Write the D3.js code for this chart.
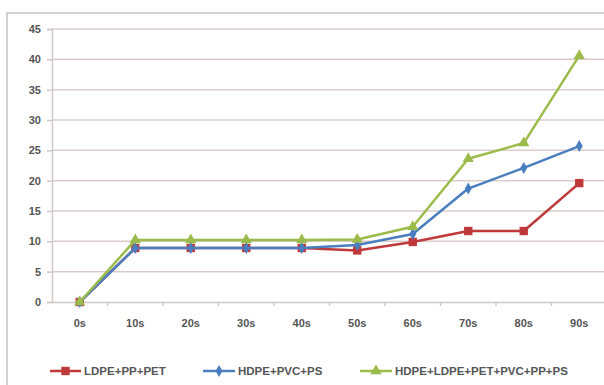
<!DOCTYPE html>
<html>
<head>
<meta charset="utf-8">
<script src="https://cdn.jsdelivr.net/npm/d3@7"></script>
<style>
  html, body { margin: 0; padding: 0; background: #fff; }
  svg { display: block; font-family: "Liberation Sans", Arial, sans-serif; }
</style>
</head>
<body>
<svg id="chart" width="604" height="385"></svg>
<script>
// Time steps along the x axis
const categories = ["0s", "10s", "20s", "30s", "40s", "50s", "60s", "70s", "80s", "90s"];

// Measured values for each plastic mixture
const ldpePpPet = [0, 8.9, 8.9, 8.9, 8.9, 8.5, 9.9, 11.7, 11.7, 19.6];
const hdpePvcPs = [0, 8.9, 8.9, 8.9, 8.9, 9.4, 11.2, 18.7, 22.1, 25.7];
const allSix    = [0, 10.2, 10.2, 10.2, 10.2, 10.3, 12.4, 23.6, 26.2, 40.6];

const seriesNames = ["LDPE+PP+PET", "HDPE+PVC+PS", "HDPE+LDPE+PET+PVC+PP+PS"];
const yTicks = [0, 5, 10, 15, 20, 25, 30, 35, 40, 45];

const series = [
  { name: seriesNames[0], values: ldpePpPet, color: "#c0393a", symbol: d3.symbolSquare, size: 70 },
  { name: seriesNames[1], values: hdpePvcPs, color: "#4a7ebf", symbol: d3.symbolDiamond, size: 42 },
  { name: seriesNames[2], values: allSix,    color: "#9bbb4a", symbol: d3.symbolTriangle, size: 55 }
];

const svg = d3.select("#chart");

// Outer chart frame
svg.append("path")
  .attr("d", "M7,385 V13 H604")
  .attr("fill", "none")
  .attr("stroke", "#d4d0d0")
  .attr("stroke-width", 2);

const plot = { left: 52, right: 607, top: 29, bottom: 302 };

const x = d3.scaleBand().domain(categories).range([plot.left, plot.right]).padding(0);
const cx = c => x(c) + x.bandwidth() / 2;
const y = d3.scaleLinear().domain([0, 45]).range([plot.bottom, plot.top]);

// Horizontal gridlines
svg.append("g")
  .selectAll("line")
  .data(yTicks.filter(t => t > 0))
  .join("line")
  .attr("x1", plot.left).attr("x2", 604)
  .attr("y1", d => y(d)).attr("y2", d => y(d))
  .attr("stroke", "#dccdcb")
  .attr("stroke-width", 1.5);

// Y axis
const yAxis = svg.append("g")
  .attr("transform", `translate(${plot.left},0)`)
  .call(d3.axisLeft(y).tickValues(yTicks).tickSize(5).tickPadding(6));
yAxis.select(".domain").attr("stroke", "#cfc8c8").attr("stroke-width", 1.5);
yAxis.selectAll(".tick line").attr("stroke", "#cfc8c8").attr("stroke-width", 1.5);
yAxis.selectAll(".tick text")
  .attr("fill", "#555").style("font-size", "11px").style("font-weight", "bold");

// X axis with tick marks at category boundaries
const xAxis = svg.append("g")
  .attr("transform", `translate(0,${plot.bottom})`)
  .call(d3.axisBottom(x).tickSize(0).tickPadding(17));
xAxis.select(".domain").attr("stroke", "#cfc8c8").attr("stroke-width", 1.5);
xAxis.selectAll(".tick text")
  .attr("fill", "#555").style("font-size", "11px").style("font-weight", "bold");
xAxis.selectAll(".boundary")
  .data(categories.slice(1))
  .join("line")
  .attr("class", "boundary")
  .attr("x1", d => x(d)).attr("x2", d => x(d))
  .attr("y1", 0).attr("y2", 4)
  .attr("stroke", "#cfc8c8").attr("stroke-width", 1.5);

// Lines and markers
const line = d3.line()
  .x((d, i) => cx(categories[i]))
  .y(d => y(d));

series.forEach(s => {
  const g = svg.append("g");
  g.append("path")
    .datum(s.values)
    .attr("d", line)
    .attr("fill", "none")
    .attr("stroke", s.color)
    .attr("stroke-width", 2.5)
    .attr("stroke-linejoin", "round");
  g.selectAll("path.marker")
    .data(s.values)
    .join("path")
    .attr("class", "marker")
    .attr("transform", (d, i) => `translate(${cx(categories[i])},${y(d)})`)
    .attr("d", d3.symbol().type(s.symbol).size(s.size))
    .attr("fill", s.color);
});

// Legend
const legendY = 371;
const legendItems = [
  { s: series[0], x0: 50, x1: 81, tx: 84 },
  { s: series[1], x0: 203, x1: 235, tx: 238 },
  { s: series[2], x0: 360, x1: 392, tx: 395 }
];
const legend = svg.append("g");
legendItems.forEach(it => {
  legend.append("line")
    .attr("x1", it.x0).attr("x2", it.x1)
    .attr("y1", legendY).attr("y2", legendY)
    .attr("stroke", it.s.color).attr("stroke-width", 2.5);
  legend.append("path")
    .attr("transform", `translate(${(it.x0 + it.x1) / 2},${legendY})`)
    .attr("d", d3.symbol().type(it.s.symbol).size(it.s.size))
    .attr("fill", it.s.color);
  legend.append("text")
    .attr("x", it.tx).attr("y", legendY + 4)
    .attr("fill", "#555")
    .style("font-size", "11.5px")
    .style("font-weight", "bold")
    .text(it.s.name);
});
</script>
</body>
</html>
